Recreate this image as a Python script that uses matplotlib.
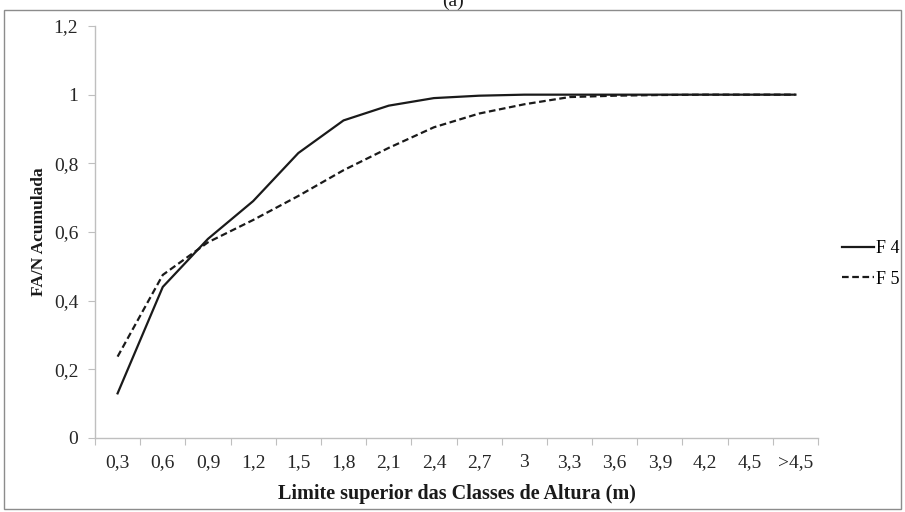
import matplotlib
matplotlib.use('Agg')
import matplotlib.pyplot as plt
from matplotlib.patches import Rectangle

# class upper limits (m) and cumulative relative frequency
classes = ['0,3', '0,6', '0,9', '1,2', '1,5', '1,8', '2,1', '2,4',
           '2,7', '3', '3,3', '3,6', '3,9', '4,2', '4,5', '>4,5']
f4 = [0.13, 0.44, 0.58, 0.69, 0.83, 0.925, 0.968, 0.99,
      0.997, 1.0, 1.0, 1.0, 1.0, 1.0, 1.0, 1.0]
f5 = [0.237, 0.475, 0.57, 0.635, 0.705, 0.78, 0.845, 0.905,
      0.945, 0.972, 0.993, 0.997, 0.999, 1.0, 1.0, 1.0]
yticks = [0, 0.2, 0.4, 0.6, 0.8, 1.0, 1.2]
ytick_labels = ['0', '0,2', '0,4', '0,6', '0,8', '1', '1,2']

plt.rcParams['font.family'] = ['Liberation Serif', 'DejaVu Serif']
axis_grey = '#bfbfbf'
text_col = '#262626'

W, H = 905, 512
fig = plt.figure(figsize=(W / 100, H / 100), dpi=100)
ax = fig.add_axes([95 / W, (H - 438) / H, (818 - 95) / W, (438 - 26) / H])

x = list(range(len(classes)))
ax.plot(x, f4, '-', color='#1a1a1a', lw=1.6, label='F 4')
ax.plot(x, f5, '--', color='#1a1a1a', lw=1.6, dashes=(3.0, 1.6), label='F 5')

ax.set_xlim(-0.5, len(classes) - 0.5)
ax.set_ylim(0, 1.2)

# category axis: tick marks between classes, labels at class centres
ax.set_xticks([i - 0.5 for i in range(len(classes) + 1)])
ax.set_xticklabels([])
ax.set_xticks(x, minor=True)
ax.set_xticklabels(classes, minor=True, fontsize=14, color=text_col)
ax.tick_params(axis='x', which='major', length=5, color=axis_grey, direction='out')
ax.tick_params(axis='x', which='minor', length=0, pad=21)
for t in ax.get_xticklabels(minor=True):
    t.set_verticalalignment('baseline')

ax.set_yticks(yticks)
ax.set_yticklabels(ytick_labels, fontsize=14, color=text_col)
ax.tick_params(axis='y', length=5, color=axis_grey, direction='out', pad=7)

for side in ['top', 'right']:
    ax.spines[side].set_visible(False)
for side in ['left', 'bottom']:
    ax.spines[side].set_color(axis_grey)
    ax.spines[side].set_linewidth(1.0)

ax.set_xlabel('Limite superior das Classes de Altura (m)', fontsize=14.5,
              fontweight='bold', color='#1a1a1a', labelpad=9)
ax.set_ylabel('FA/N Acumulada', fontsize=12.5, fontweight='bold',
              color='#1a1a1a', labelpad=5)

fig.legend(loc='center left', bbox_to_anchor=(826 / W, 1 - 264 / H),
           frameon=False, fontsize=13, handlelength=1.75,
           handletextpad=0.1, labelspacing=0.75)

# outer chart border
fig.add_artist(Rectangle((4 / W, 3 / H), (W - 8) / W, (H - 13) / H,
                         transform=fig.transFigure, fill=False,
                         edgecolor='#8c8c8c', lw=1.0))
fig.text(0.5, 1 - 6 / H, '(a)', ha='center', va='baseline',
         fontsize=14, color='#1a1a1a')

fig.savefig('out.png', dpi=100)
